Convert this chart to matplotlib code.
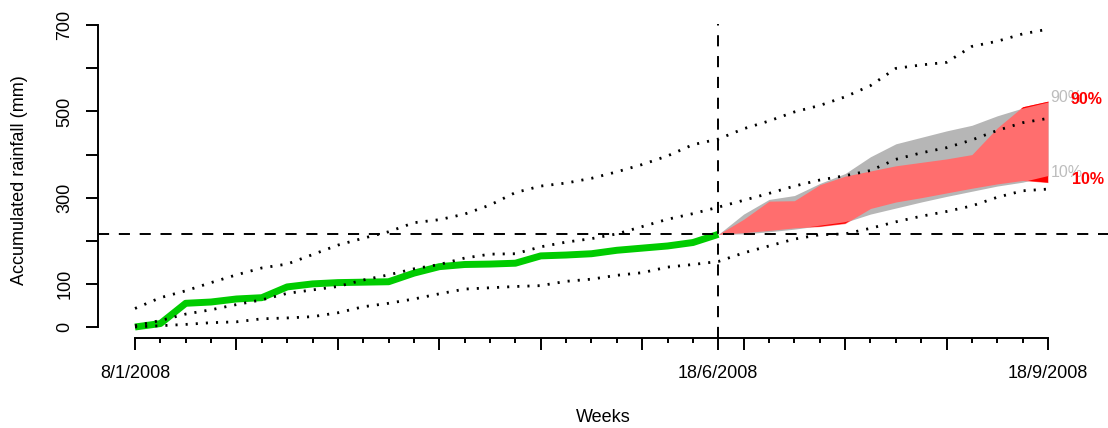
import numpy as np
import matplotlib
matplotlib.use('Agg')
import matplotlib.pyplot as mpp

mpp.rcParams['font.family'] = ['Liberation Sans', 'DejaVu Sans']
mpp.rcParams['lines.scale_dashes'] = False

# week index, 0 = 8/1/2008, 23 = 18/6/2008, 36 = 18/9/2008
weeks = np.arange(0, 37)
weeks_obs = np.arange(0, 24)
weeks_fc = np.arange(23, 37)

# observed accumulated rainfall (mm)
observed = [0, 8, 55, 58, 65, 68, 93, 100, 103, 104, 105, 125,
            140, 145, 146, 148, 165, 167, 170, 178, 183, 188, 196, 215]

# climatology lines (dotted)
clim_upper = [43, 68, 84, 103, 121, 137, 146, 168, 190, 206, 221, 242,
              249, 262, 283, 312, 327, 334, 345, 360, 377, 397, 423, 436,
              460, 478, 499, 514, 534, 560, 600, 608, 614, 651, 663, 680, 691]
clim_middle = [3, 15, 30, 40, 52, 63, 78, 86, 94, 109, 121, 135,
               145, 160, 169, 170, 186, 197, 205, 216, 233, 250, 263, 278,
               294, 310, 327, 341, 351, 363, 389, 404, 416, 434, 456, 474, 484]
clim_lower = [0, 3, 6, 10, 12, 19, 21, 24, 33, 47, 55, 65,
              77, 88, 91, 94, 96, 106, 111, 120, 126, 139, 145, 152,
              172, 188, 204, 214, 216, 229, 244, 257, 268, 281, 301, 316, 320]

# forecast bands 10% - 90%
gray_low = [215, 216, 221, 227, 235, 243, 262, 276, 290, 303, 315, 327, 336, 350]
gray_high = [215, 262, 296, 305, 333, 356, 395, 425, 440, 455, 468, 490, 508, 522]
red_low = [215, 219, 224, 230, 233, 240, 275, 290, 300, 311, 322, 332, 340, 335]
red_high = [215, 250, 292, 293, 330, 350, 362, 374, 382, 390, 400, 462, 511, 524]

current = observed[-1]

date_weeks = [0, 23, 36]
date_labels = ['8/1/2008', '18/6/2008', '18/9/2008']
y_ticks = np.arange(0, 701, 100)
y_labels = ['0', '100', '', '300', '', '500', '', '700']

gray_low, gray_high = np.array(gray_low), np.array(gray_high)
red_low, red_high = np.array(red_low), np.array(red_high)

fig = mpp.figure(figsize=(11.08, 4.28), dpi=100)
ax = fig.add_axes([98 / 1108, 90 / 428, 1010 / 1108, 314 / 428])
ax.set_xlim(-1.459, 38.366)
ax.set_ylim(-25.52, 703.0)

# bands: gray under, red overlap lighter, red only in pure red
ax.fill_between(weeks_fc, gray_low, gray_high, color='#b6b6b6', lw=0)
ax.fill_between(weeks_fc, red_low, red_high, color='#ff6e6e', lw=0)
ax.fill_between(weeks_fc, np.maximum(gray_high, red_low), red_high,
                where=red_high > gray_high, interpolate=True, color='red', lw=0)
ax.fill_between(weeks_fc, red_low, np.minimum(gray_low, red_high),
                where=red_low < gray_low, interpolate=True, color='red', lw=0)

ax.plot(weeks_obs, observed, color='#00cc00', lw=5, solid_capstyle='butt')

for line in [clim_upper, clim_middle, clim_lower]:
    ax.plot(weeks, line, color='black', lw=2.0, dashes=(1.5, 5.8))

ax.axhline(current, color='black', lw=1.4, dashes=(8, 7))
ax.axvline(23, color='black', lw=1.4, dashes=(8, 7))

# percentile labels
ax.annotate('90%', (36, gray_high[-1]), xytext=(2, 5), textcoords='offset pixels',
            color='#bdbdbd', fontsize=11.5, va='center', ha='left')
ax.annotate('10%', (36, gray_low[-1]), xytext=(3, 4), textcoords='offset pixels',
            color='#bdbdbd', fontsize=11.5, va='center', ha='left')
ax.annotate('90%', (36, red_high[-1]), xytext=(23, 2), textcoords='offset pixels',
            color='red', fontsize=11.5, fontweight='bold', va='center', ha='left')
ax.annotate('10%', (36, red_low[-1]), xytext=(24, 3), textcoords='offset pixels',
            color='red', fontsize=11.5, fontweight='bold', va='center', ha='left')

# axes in R style
for side in ['top', 'right']:
    ax.spines[side].set_visible(False)
ax.spines['left'].set_bounds(0, 700)
ax.spines['bottom'].set_bounds(0, 36)
ax.spines['left'].set_linewidth(1.4)
ax.spines['bottom'].set_linewidth(1.4)

major_x = sorted(set(list(range(0, 33, 4)) + date_weeks))
ax.set_xticks(major_x, [date_labels[date_weeks.index(w)] if w in date_weeks else ''
                        for w in major_x])
ax.set_xticks(weeks, minor=True)
ax.tick_params(axis='x', which='major', length=8.6, width=1.4, pad=11, labelsize=13)
ax.tick_params(axis='x', which='minor', length=3.5, width=1.4)

ax.set_yticks(y_ticks, y_labels, rotation=90, va='center')
ax.tick_params(axis='y', length=8.6, width=1.4, pad=9, labelsize=13)

fig.text(20 / 1108, 1 - 180 / 428, 'Accumulated rainfall (mm)', rotation=90,
         ha='center', va='center', fontsize=13)
fig.text(603 / 1108, 1 - 418 / 428, 'Weeks', ha='center', va='center', fontsize=13)

mpp.savefig('out.png', dpi=100)
